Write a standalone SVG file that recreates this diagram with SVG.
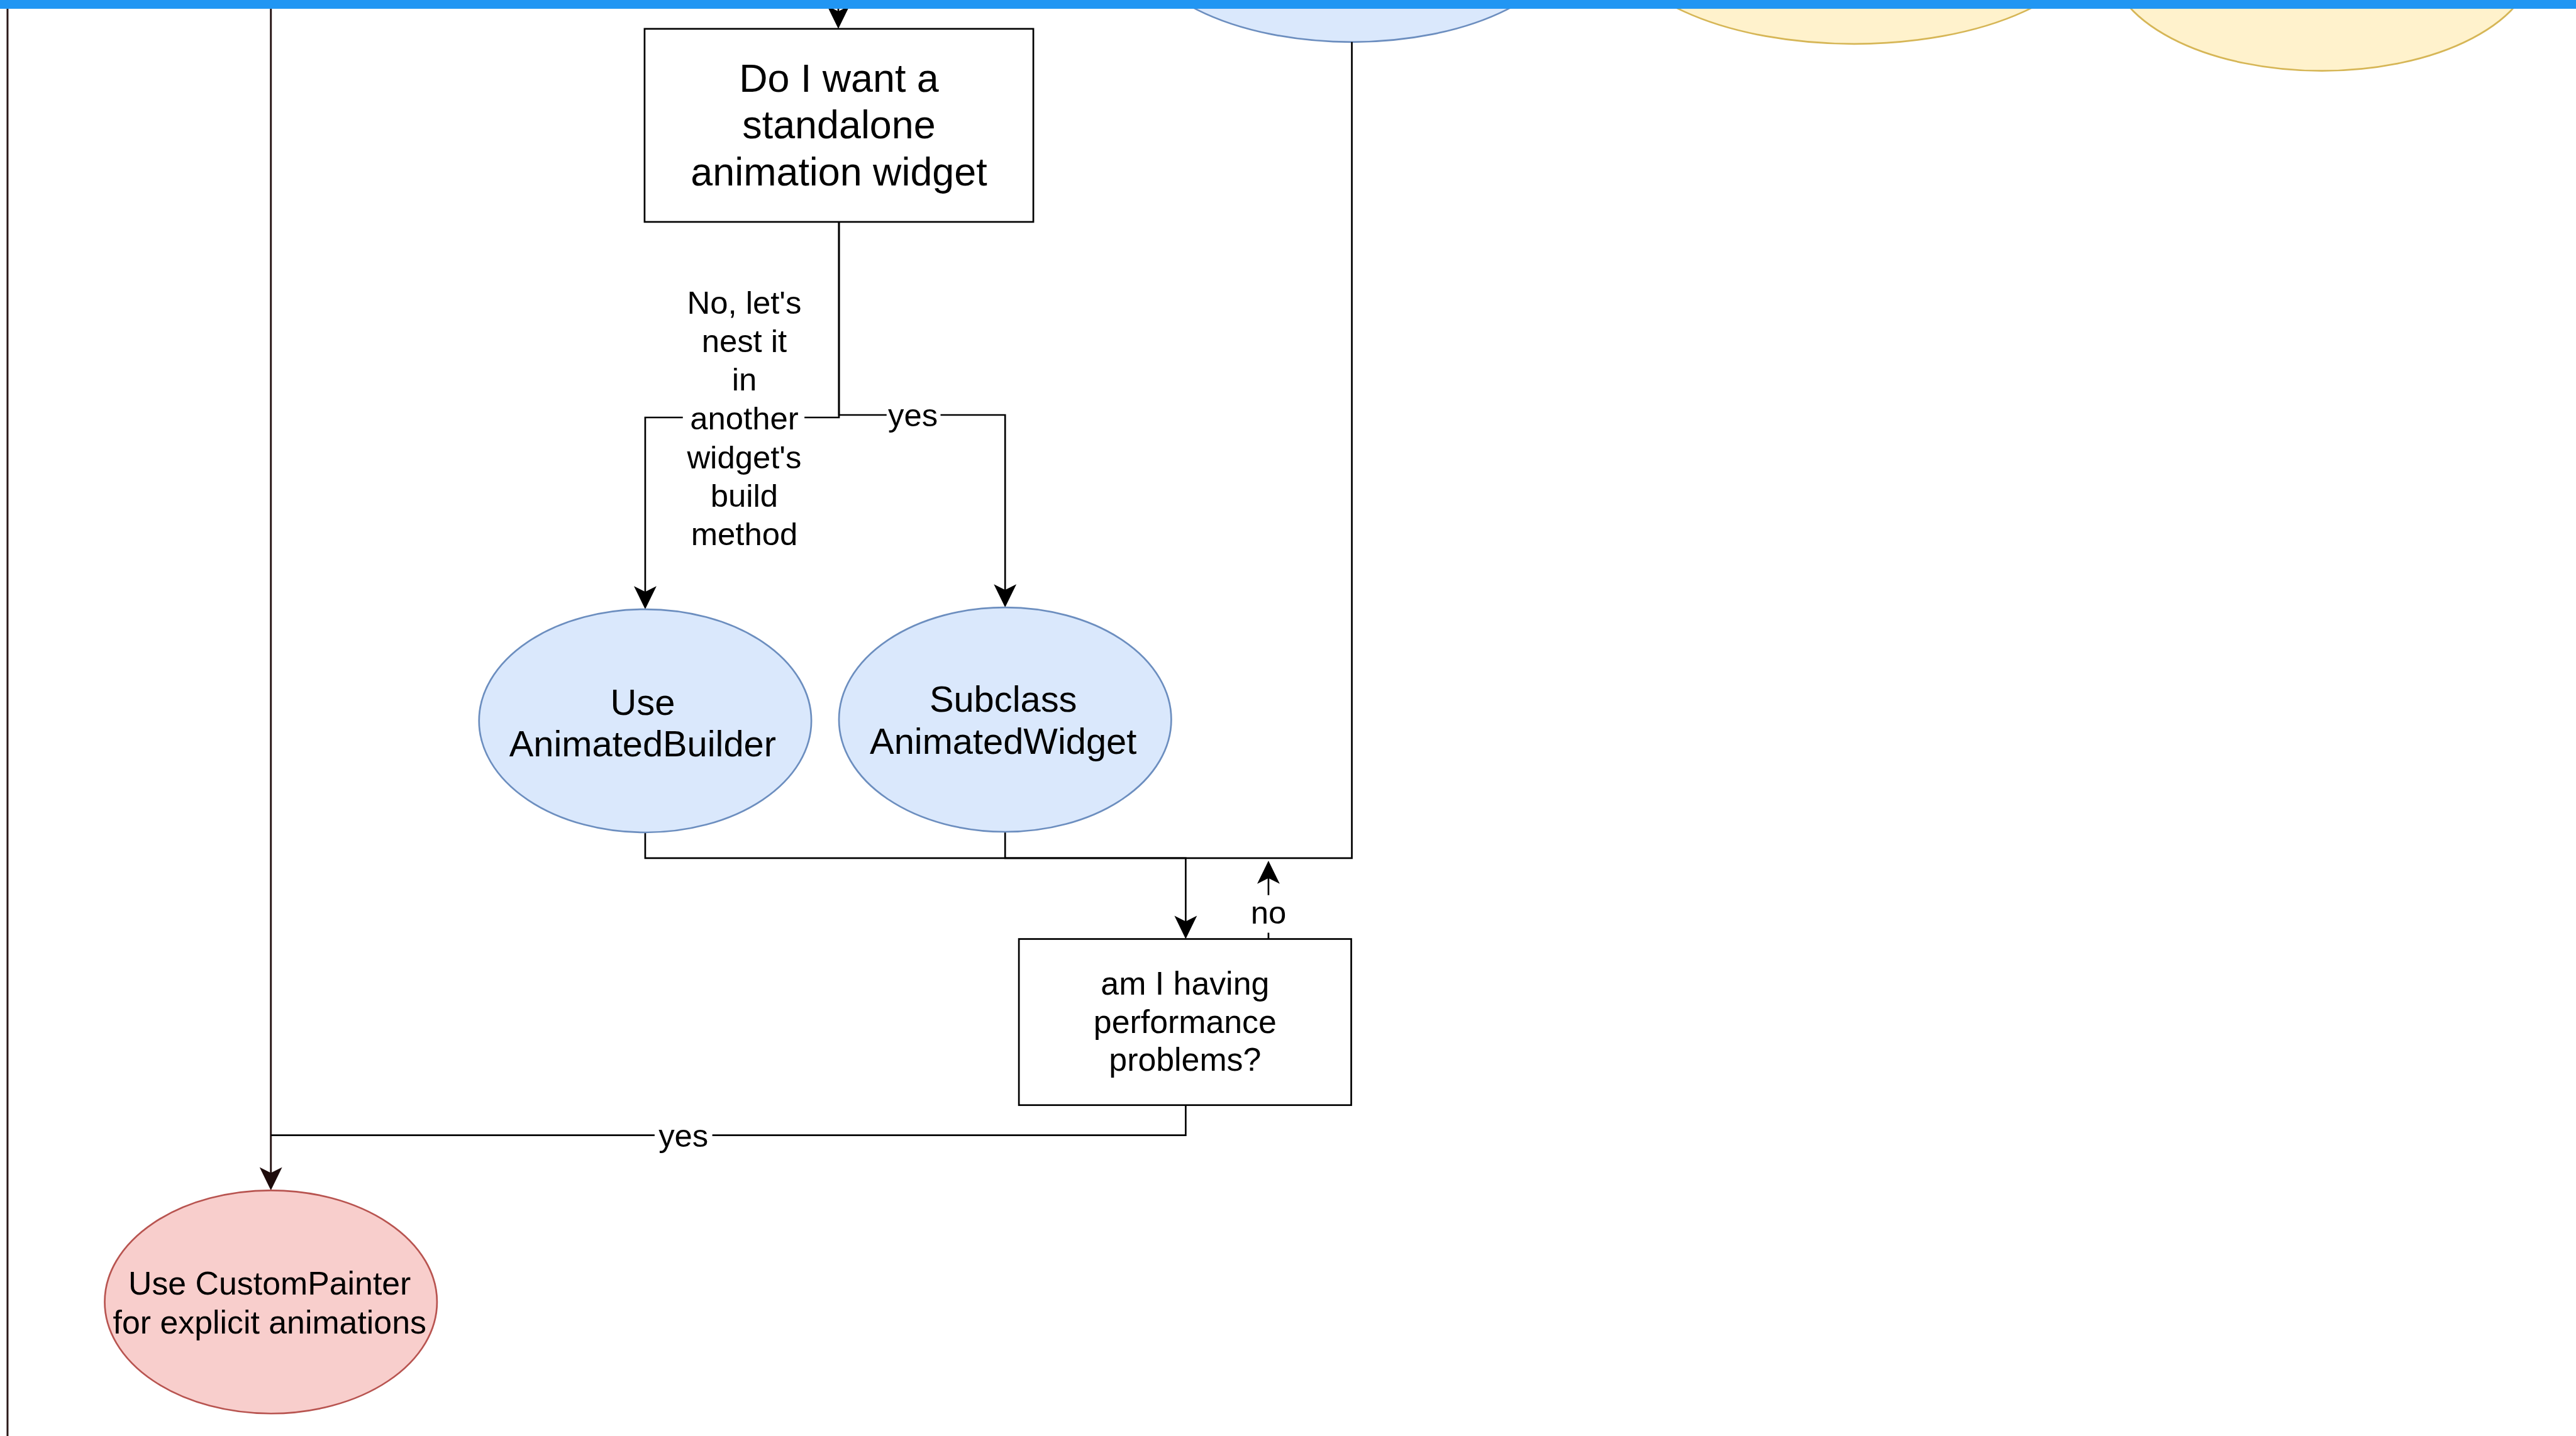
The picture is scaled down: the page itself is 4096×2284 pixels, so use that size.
<svg xmlns="http://www.w3.org/2000/svg" width="4096" height="2284" viewBox="0 0 4096 2284">
<defs>
<style>
.t{font-family:"Liberation Sans",Arial,Helvetica,sans-serif;fill:#000;text-anchor:middle}
.box{fill:#fff;stroke:#000;stroke-width:2.7}
.blue{fill:#dae8fc;stroke:#6c8ebf;stroke-width:2.7}
.yel{fill:#fff2cc;stroke:#d6b656;stroke-width:2.7}
.red{fill:#f8cecc;stroke:#b85450;stroke-width:2.7}
.e{fill:none;stroke:#000;stroke-width:2.7}
.d{fill:none;stroke:#2a1818;stroke-width:3}
.lb{fill:#fff}
</style>
<marker id="ah" viewBox="-20 -20 42 40" markerWidth="42" markerHeight="40" refX="0" refY="0" orient="auto" markerUnits="userSpaceOnUse"><path d="M20,0 L-17,-18 L-8,0 L-17,18 Z" fill="#000"/></marker>
<marker id="ahd" viewBox="-20 -20 42 40" markerWidth="42" markerHeight="40" refX="0" refY="0" orient="auto" markerUnits="userSpaceOnUse"><path d="M20,0 L-17,-18 L-8,0 L-17,18 Z" fill="#1e0c0c"/></marker>
</defs>
<rect width="4096" height="2284" fill="#fff"/>
<g transform="scale(0.997)">
<g id="top-blue"><ellipse class="blue" cx="2156" cy="-110" rx="350" ry="177"/></g>
<g id="top-yellow-1"><ellipse class="yel" cx="2957" cy="-107" rx="384" ry="177"/></g>
<g id="top-yellow-2"><ellipse class="yel" cx="3703" cy="-64" rx="339" ry="177"/></g>

<g id="connectors">
<path class="d" d="M12,14 V2300"/>
<path class="d" d="M432,14 V1879" marker-end="url(#ahd)"/>
<path class="e" d="M1337,0 V26" marker-end="url(#ah)"/>
<path class="e" d="M1338,354 V666 H1029 V952" marker-end="url(#ah)"/>
<path class="e" d="M1338,354 V662 H1603 V949" marker-end="url(#ah)"/>
<path class="e" d="M1029,1328 V1369 H1891 V1478" marker-end="url(#ah)"/>
<path class="e" d="M1603,1327 V1369 H1891"/>
<path class="e" d="M2156,67 V1369 H1891"/>
<path class="e" d="M2023,1498 V1393" marker-end="url(#ah)"/>
<path class="e" d="M1891,1763 V1811 H432"/>
</g>

<g id="node-standalone">
<rect class="box" x="1028" y="46" width="620" height="308"/>
<text class="t" font-size="63" x="1338" y="146">Do I want a</text>
<text class="t" font-size="63" x="1338" y="221">standalone</text>
<text class="t" font-size="63" x="1338" y="296">animation widget</text>
</g>
<g id="node-animatedbuilder">
<ellipse class="blue" cx="1029" cy="1150" rx="265" ry="178"/>
<text class="t" font-size="58" x="1025" y="1140">Use</text>
<text class="t" font-size="58" x="1025" y="1207">AnimatedBuilder</text>
</g>
<g id="node-animatedwidget">
<ellipse class="blue" cx="1603" cy="1148" rx="265" ry="179"/>
<text class="t" font-size="58" x="1600" y="1135">Subclass</text>
<text class="t" font-size="58" x="1600" y="1203">AnimatedWidget</text>
</g>
<g id="node-performance">
<rect class="box" x="1625" y="1498" width="530" height="265"/>
<text class="t" font-size="52" x="1890" y="1587">am I having</text>
<text class="t" font-size="52" x="1890" y="1648">performance</text>
<text class="t" font-size="52" x="1890" y="1708">problems?</text>
</g>
<g id="node-custompainter">
<ellipse class="red" cx="432" cy="2077" rx="265" ry="178"/>
<text class="t" font-size="52" x="430" y="2065">Use CustomPainter</text>
<text class="t" font-size="52" x="430" y="2127">for explicit animations</text>
</g>

<g id="edge-labels">
<rect class="lb" x="1089" y="640" width="194" height="50"/>
<text class="t" font-size="51" x="1187" y="501">No, let's</text>
<text class="t" font-size="51" x="1187" y="562">nest it</text>
<text class="t" font-size="51" x="1187" y="623">in</text>
<text class="t" font-size="51" x="1187" y="685">another</text>
<text class="t" font-size="51" x="1187" y="747">widget's</text>
<text class="t" font-size="51" x="1187" y="808">build</text>
<text class="t" font-size="51" x="1187" y="870">method</text>
<rect class="lb" x="1414" y="640" width="86" height="50"/>
<text class="t" font-size="51" x="1456" y="680">yes</text>
<rect class="lb" x="1044" y="1790" width="92" height="44"/>
<text class="t" font-size="51" x="1090" y="1829">yes</text>
<rect class="lb" x="2003" y="1428" width="40" height="60"/>
<text class="t" font-size="51" x="2023" y="1473">no</text>
</g>
<rect x="0" y="0" width="4110" height="14" fill="#2196f3"/>
</g>
</svg>
